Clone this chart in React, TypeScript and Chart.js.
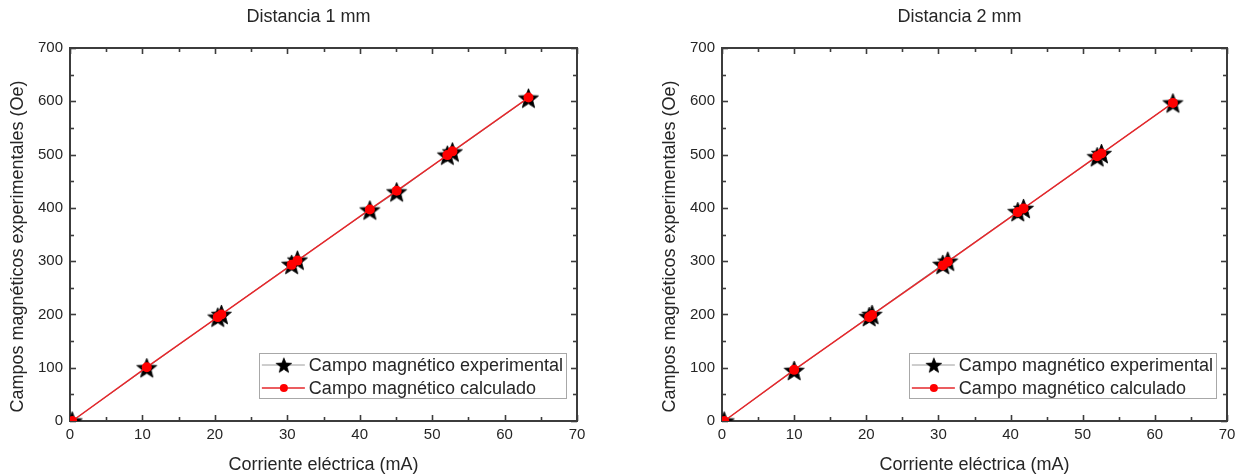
import { useEffect, useRef } from 'react';
import { Chart, registerables } from 'chart.js';

Chart.register(...registerables);

// Distancia 1 mm: corriente (mA) y campo (Oe)
const current1mm = [0.3, 10.6, 20.4, 20.9, 30.6, 31.4, 41.4, 45.1, 52.1, 52.8, 63.3];
const measured1mm = [0, 100, 195, 200, 294, 302, 396, 430, 499, 505, 606];
const computed1mm = [0, 101, 195, 200, 293, 301, 397, 432, 499, 506, 607];

// Distancia 2 mm: corriente (mA) y campo (Oe)
const current2mm = [0.3, 10.0, 20.4, 20.8, 30.6, 31.3, 41.0, 41.8, 52.0, 52.6, 62.5];
const measured2mm = [0, 95, 196, 200, 294, 300, 393, 399, 496, 502, 597];
const computed2mm = [0, 96, 195, 199, 292, 299, 392, 399, 497, 502, 597];

const seriesLabels = ['Campo magnético experimental', 'Campo magnético calculado'];
const chartTitles = ['Distancia 1 mm', 'Distancia 2 mm'];
const xAxisTitle = 'Corriente eléctrica (mA)';
const yAxisTitle = 'Campos magnéticos experimentales (Oe)';

const xRange = [0, 70];
const xStep = 10;
const yRange = [0, 700];
const yStep = 100;

const FONT = "'Liberation Sans', Arial, Helvetica, sans-serif";
const TEXT = '#262626';
const FRAME = '#3c3c3c';

function makeStar(outer: number, color: string): HTMLCanvasElement {
  const size = Math.ceil(outer * 2 + 2);
  const c = document.createElement('canvas');
  c.width = size;
  c.height = size;
  const g = c.getContext('2d')!;
  const cx = size / 2;
  const cy = size / 2 + outer * 0.1;
  g.beginPath();
  for (let i = 0; i < 10; i++) {
    const r = i % 2 === 0 ? outer : outer * 0.43;
    const a = -Math.PI / 2 + (i * Math.PI) / 5;
    const px = cx + r * Math.cos(a);
    const py = cy + r * Math.sin(a);
    if (i === 0) g.moveTo(px, py);
    else g.lineTo(px, py);
  }
  g.closePath();
  g.fillStyle = color;
  g.fill();
  g.lineJoin = 'miter';
  g.strokeStyle = color;
  g.lineWidth = 0.8;
  g.stroke();
  return c;
}

// Box frame with inward ticks on all four sides, chart title, rotated y title and boxed legend
const framePlugin = {
  id: 'frame',
  beforeDatasetsDraw(chart: any) {
    const { ctx, chartArea: a, scales } = chart;
    const xs = scales.x;
    const ys = scales.y;
    ctx.save();
    ctx.strokeStyle = FRAME;
    ctx.lineWidth = 1.6;
    const seg = (x1: number, y1: number, x2: number, y2: number) => {
      ctx.beginPath();
      ctx.moveTo(x1, y1);
      ctx.lineTo(x2, y2);
      ctx.stroke();
    };
    for (let v = xs.min; v <= xs.max + 1e-9; v += xStep / 2) {
      const px = Math.round(xs.getPixelForValue(v)) + 0.5;
      const major = Math.abs(v / xStep - Math.round(v / xStep)) < 1e-6;
      const len = major ? 6 : 4;
      seg(px, a.bottom, px, a.bottom - len);
      seg(px, a.top, px, a.top + len);
    }
    for (let v = ys.min; v <= ys.max + 1e-9; v += yStep / 2) {
      const py = Math.round(ys.getPixelForValue(v)) + 0.5;
      const major = Math.abs(v / yStep - Math.round(v / yStep)) < 1e-6;
      const len = major ? 6 : 4;
      seg(a.left, py, a.left + len, py);
      seg(a.right, py, a.right - len, py);
    }
    ctx.lineWidth = 2;
    ctx.strokeRect(a.left, a.top, a.right - a.left, a.bottom - a.top);
    ctx.restore();
  },
  afterDraw(chart: any, _args: any, opts: any) {
    const { ctx, chartArea: a } = chart;
    ctx.save();
    ctx.fillStyle = TEXT;
    ctx.font = `18px ${FONT}`;
    ctx.textAlign = 'center';
    ctx.textBaseline = 'middle';
    // chart title
    ctx.fillText(opts.title, (a.left + a.right) / 2 - 15, 17);
    // y axis title
    ctx.save();
    ctx.translate(a.left - 52, (a.top + a.bottom) / 2 + 12);
    ctx.rotate(-Math.PI / 2);
    ctx.fillText(yAxisTitle, 0, 0);
    ctx.restore();

    // legend
    const sets = chart.data.datasets;
    ctx.font = `18px ${FONT}`;
    const textW = Math.max(...sets.map((d: any) => ctx.measureText(d.label).width));
    const boxW = 50 + textW + 3;
    const boxH = 45;
    const bx = a.right - 11 - boxW;
    const by = a.bottom - 23 - boxH;
    ctx.fillStyle = '#ffffff';
    ctx.fillRect(bx, by, boxW, boxH);
    ctx.strokeStyle = '#a8a8a8';
    ctx.lineWidth = 1;
    ctx.strokeRect(Math.round(bx) + 0.5, Math.round(by) + 0.5, Math.round(boxW), boxH);
    sets.forEach((d: any, i: number) => {
      const cy = by + 12 + i * 23;
      const cx = bx + 25;
      ctx.strokeStyle = d.borderColor;
      ctx.lineWidth = d.borderWidth;
      ctx.beginPath();
      ctx.moveTo(bx + 3, cy);
      ctx.lineTo(bx + 46, cy);
      ctx.stroke();
      if (typeof d.pointStyle === 'object') {
        const s = 18;
        ctx.drawImage(d.pointStyle, cx - s / 2, cy - s / 2, s, s);
      } else {
        ctx.fillStyle = d.pointBackgroundColor;
        ctx.beginPath();
        ctx.arc(cx, cy, 4, 0, Math.PI * 2);
        ctx.fill();
      }
      ctx.fillStyle = TEXT;
      ctx.textAlign = 'left';
      ctx.fillText(d.label, bx + 50, cy + 1);
    });
    ctx.restore();
  },
};

type PanelProps = {
  left: number;
  width: number;
  title: string;
  current: number[];
  measured: number[];
  computed: number[];
  axisWidth: number;
  padRight: number;
};

function Panel({ left, width, title, current, measured, computed, axisWidth, padRight }: PanelProps) {
  const ref = useRef<HTMLCanvasElement>(null);
  useEffect(() => {
    const canvas = ref.current;
    if (!canvas) return;
    const star = makeStar(10.5, '#000000');
    const tickFont = { family: FONT, size: 15 };
    const chart = new Chart(canvas, {
      type: 'scatter',
      data: {
        datasets: [
          {
            label: seriesLabels[0],
            data: current.map((c, i) => ({ x: c, y: measured[i] })),
            showLine: true,
            borderColor: '#9c9c9c',
            borderWidth: 1,
            pointStyle: star as any,
            pointRadius: 10,
            pointBackgroundColor: '#000000',
            order: 2,
          },
          {
            label: seriesLabels[1],
            data: current.map((c, i) => ({ x: c, y: computed[i] })),
            showLine: true,
            borderColor: '#e5272b',
            borderWidth: 1.5,
            pointStyle: 'circle',
            pointRadius: 5,
            pointBorderWidth: 0,
            pointBackgroundColor: '#ff0000',
            order: 1,
          },
        ],
      },
      options: {
        animation: false,
        responsive: false,
        events: [],
        layout: { padding: { left: 0, top: 48, right: padRight, bottom: 0 } },
        plugins: {
          legend: { display: false },
          tooltip: { enabled: false },
          title: { display: false },
          frame: { title },
        } as any,
        scales: {
          x: {
            type: 'linear',
            min: xRange[0],
            max: xRange[1],
            ticks: { stepSize: xStep, padding: 5, color: TEXT, font: tickFont },
            grid: { display: false, drawTicks: false },
            border: { display: false },
            title: { display: true, text: xAxisTitle, color: TEXT, font: { family: FONT, size: 18 }, padding: 0 },
            afterFit: (s: any) => {
              s.height = 55;
            },
          },
          y: {
            type: 'linear',
            min: yRange[0],
            max: yRange[1],
            ticks: { stepSize: yStep, padding: 7, color: TEXT, font: tickFont },
            grid: { display: false, drawTicks: false },
            border: { display: false },
            title: { display: false },
            afterFit: (s: any) => {
              s.width = axisWidth;
            },
          },
        },
      },
      plugins: [framePlugin],
    });
    return () => chart.destroy();
  }, []);
  return (
    <canvas
      ref={ref}
      width={width}
      height={476}
      style={{ position: 'absolute', left, top: 0, display: 'block' }}
    />
  );
}

export default function App() {
  return (
    <div
      style={{
        position: 'fixed',
        left: 0,
        top: 0,
        width: 1242,
        height: 476,
        background: '#ffffff',
        overflow: 'hidden',
      }}
    >
      <Panel
        left={0}
        width={621}
        title={chartTitles[0]}
        current={current1mm}
        measured={measured1mm}
        computed={computed1mm}
        axisWidth={70}
        padRight={44}
      />
      <Panel
        left={621}
        width={621}
        title={chartTitles[1]}
        current={current2mm}
        measured={measured2mm}
        computed={computed2mm}
        axisWidth={101}
        padRight={15}
      />
    </div>
  );
}
